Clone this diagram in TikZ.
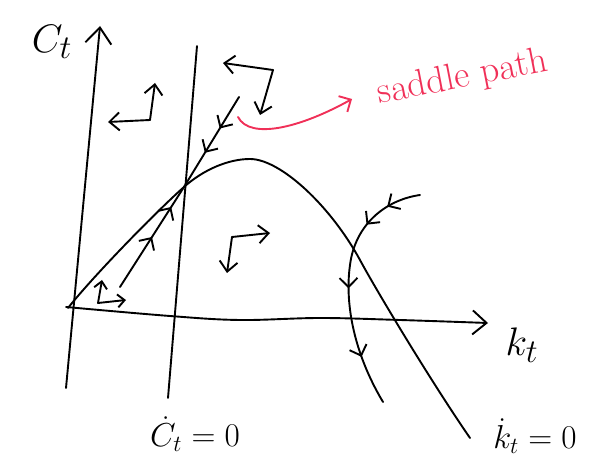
\documentclass[tikz,border=0pt]{standalone}
\usetikzlibrary{arrows.meta,decorations.markings}
\definecolor{pinkred}{RGB}{240,48,88}
\tikzset{
  ink/.style={line width=1.9pt, line cap=round, line join=round},
  bigtip/.style={-{Straight Barb[length=16pt,width=26pt]}},
  smalltip/.style={-{Straight Barb[length=10pt,width=18pt]}},
  midtip/.style={postaction={decorate, decoration={markings,
      mark=at position #1 with {\arrow{Straight Barb[length=9pt,width=18pt]}}}}},
  lbl/.style={inner sep=0pt, scale=1.6}
}
\begin{document}
\begin{tikzpicture}[x=1pt,y=-1pt]
\useasboundingbox (0,0) rectangle (600,470);
% key points
\coordinate (ybot) at (66,388);
\coordinate (ytop) at (100,26);
\coordinate (o) at (68,308);
\coordinate (ss) at (184,187);
\coordinate (peak) at (250,159);
\coordinate (kx) at (360,260);
\coordinate (kend) at (470,438);
\coordinate (vtop) at (197,46);
\coordinate (vbot) at (168,398);
\coordinate (sptop) at (239,97);
\coordinate (spbot) at (120,287);
\coordinate (rt) at (420,195);
\coordinate (rm) at (350,265);
\coordinate (rb) at (383,402);

% axes
\draw[ink,bigtip] (ybot) -- (ytop);
\draw[ink,-{Straight Barb[length=14pt,width=24pt]}] plot[smooth,tension=0.6] coordinates {(66,307) (170,316) (240,320) (320,318) (400,320) (488,323)};

% Cdot = 0
\draw[ink] (vtop) -- (vbot);
% kdot = 0
\draw[ink] (o) .. controls (95,274) and (160,208) .. (ss)
  .. controls (203,170) and (228,159) .. (peak)
  .. controls (280,159) and (330,205) .. (kx)
  .. controls (375,288) and (430,380) .. (kend);

% saddle path
\draw[ink,midtip=0.35,midtip=0.62] (sptop) -- (ss);
\draw[ink,midtip=0.5,midtip=0.8] (spbot) -- (ss);

% diverging path on right
\draw[ink,midtip=0.14,midtip=0.25,midtip=0.52,midtip=0.8] (rt) .. controls (385,200) and (355,225) .. (rm) .. controls (345,300) and (352,350) .. (rb);

% direction arrows
\coordinate (e1) at (150,120);
\coordinate (e1u) at (155,83);
\coordinate (e1l) at (108,122);
\draw[ink,smalltip] (e1) -- (e1u);
\draw[ink,smalltip] (e1) -- (e1l);

\coordinate (e2) at (273,70);
\coordinate (e2l) at (223,63);
\coordinate (e2d) at (260,115);
\draw[ink,smalltip] (e2) -- (e2l);
\draw[ink,smalltip] (e2) -- (e2d);

\coordinate (e3) at (232,237);
\coordinate (e3r) at (270,233);
\coordinate (e3d) at (227,273);
\draw[ink,smalltip] (e3) -- (e3r);
\draw[ink,smalltip] (e3) -- (e3d);

\coordinate (e4) at (98,303);
\coordinate (e4u) at (102,280);
\coordinate (e4r) at (126,300);
\draw[ink,-{Straight Barb[length=7pt,width=13pt]}] (e4) -- (e4u);
\draw[ink,-{Straight Barb[length=7pt,width=13pt]}] (e4) -- (e4r);

% saddle path annotation
\coordinate (rs) at (238,117);
\coordinate (re) at (352,99);
\draw[ink,pinkred,-{Straight Barb[length=9pt,width=18pt]}] (rs) .. controls (250,140) and (300,128) .. (re);
\node[inner sep=0pt,pinkred,rotate=11,scale=1.5] (sp) at (463,78) {\Huge saddle path};

% labels
\node[lbl] (cl) at (52,42) {\Huge $C_t$};
\node[lbl] (kl) at (522,345) {\Huge $k_t$};
\node[lbl] (cd) at (195,434) {\huge $\dot{C}_t=0$};
\node[lbl] (kd) at (535,436) {\huge $\dot{k}_t=0$};
\end{tikzpicture}
\end{document}
